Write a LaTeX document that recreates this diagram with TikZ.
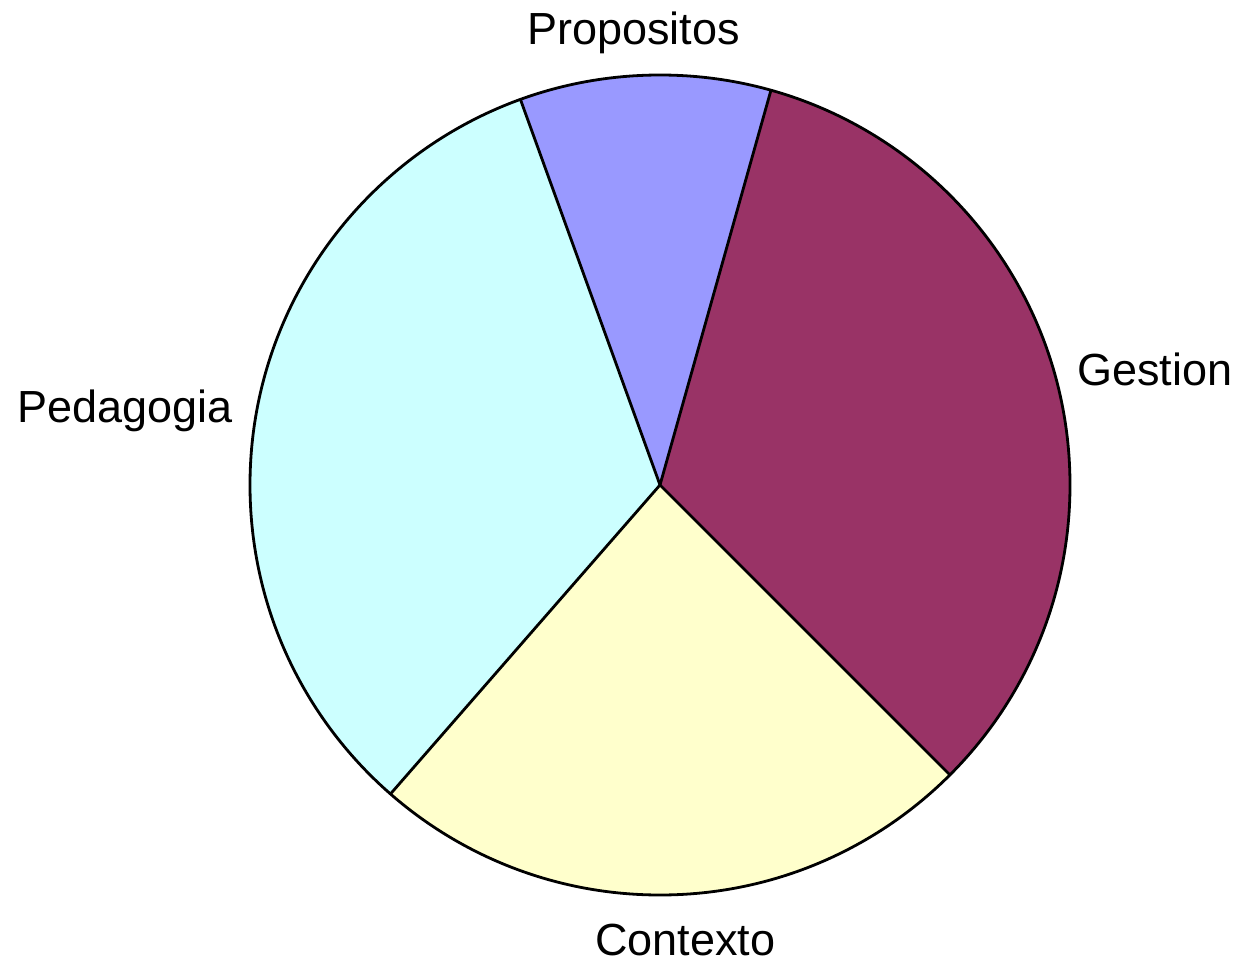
\documentclass[tikz,border=0pt]{standalone}
\usepackage{fontspec}
\setmainfont{Liberation Sans}
\definecolor{cProp}{HTML}{9999FF}
\definecolor{cGest}{HTML}{993366}
\definecolor{cCont}{HTML}{FFFFCC}
\definecolor{cPed}{HTML}{CCFFFF}
\begin{document}
\begin{tikzpicture}[x=1pt,y=-1pt,
  slice/.style={draw=black,line width=2.8pt,line join=round},
  lbl/.style={inner sep=0pt,anchor=base west,font=\fontsize{45}{54}\selectfont}]
\useasboundingbox (0,0) rectangle (1240,966);
\coordinate (c) at (660,485);
\def\R{410}
% slices (math angles, y flipped so use negative angles)
\fill[cProp] (c) -- ++(-74.3:\R) arc[start angle=-74.3,end angle=-109.9,radius=\R] -- cycle;
\fill[cPed] (c) -- ++(-109.9:\R) arc[start angle=-109.9,end angle=-228.9,radius=\R] -- cycle;
\fill[cCont] (c) -- ++(-228.9:\R) arc[start angle=-228.9,end angle=-315.0,radius=\R] -- cycle;
\fill[cGest] (c) -- ++(-315.0:\R) arc[start angle=-315.0,end angle=-434.3,radius=\R] -- cycle;
\draw[slice] (c) circle[radius=\R];
\draw[slice] (c) -- ++(-74.3:\R);
\draw[slice] (c) -- ++(-109.9:\R);
\draw[slice] (c) -- ++(-228.9:\R);
\draw[slice] (c) -- ++(-315.0:\R);
\node[lbl] (prop) at (527,45) {Propositos};
\node[lbl] (ped) at (17,422) {Pedagogia};
\node[lbl] (gest) at (1077,385) {Gestion};
\node[lbl] (cont) at (595,955) {Contexto};
\end{tikzpicture}
\end{document}
